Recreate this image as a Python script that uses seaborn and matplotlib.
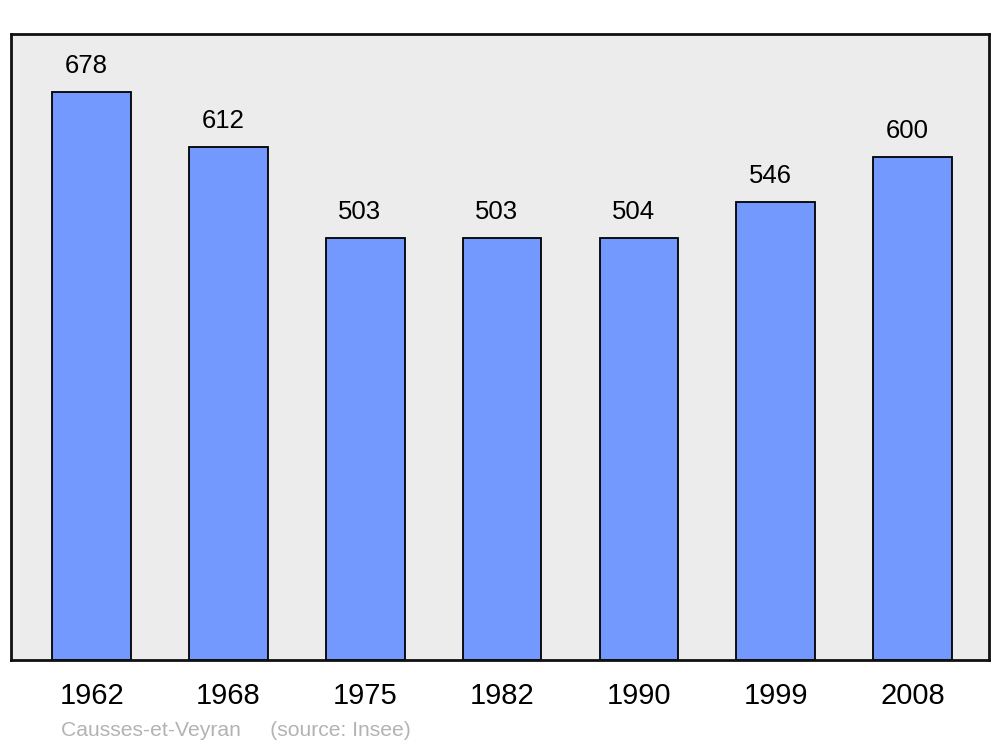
import numpy as np
import pandas as pd
import seaborn as sns
import matplotlib.pyplot as plt

# Population data
years = ['1962', '1968', '1975', '1982', '1990', '1999', '2008']
population = [678, 612, 503, 503, 504, 546, 600]

df = pd.DataFrame({'year': years, 'pop': population})

sns.set_style('white')
plt.rcParams['font.family'] = ['Liberation Sans', 'DejaVu Sans']

fig = plt.figure(figsize=(10, 7.47), dpi=100)
ax = fig.add_axes([0.011, 1 - 660 / 747, 0.978, 626 / 747])

sns.barplot(data=df, x='year', y='pop', color='#7399ff', width=0.575,
            edgecolor='black', linewidth=1.3, saturation=1, ax=ax)

ax.set_facecolor('#ececec')
ax.set_xlim(-0.59, 6.56)
ax.set_ylim(0, 747)
ax.set_xlabel('')
ax.set_ylabel('')
ax.set_yticks([])
ax.tick_params(axis='x', length=0, labelsize=21, pad=16, labelcolor='black')
for s in ax.spines.values():
    s.set_linewidth(2)
    s.set_color('#111111')

# value labels (slightly left of the bar centre, like the original)
for i, v in enumerate(population):
    ax.text(i - 0.04, v + 31, str(v), ha='center', va='center',
            fontsize=18.5, color='black')

fig.text(0.061, 1 - 730 / 747, 'Causses-et-Veyran     (source: Insee)',
         color='#b3b3b3', fontsize=15.2, va='center')

fig.savefig('out.png', dpi=100)
